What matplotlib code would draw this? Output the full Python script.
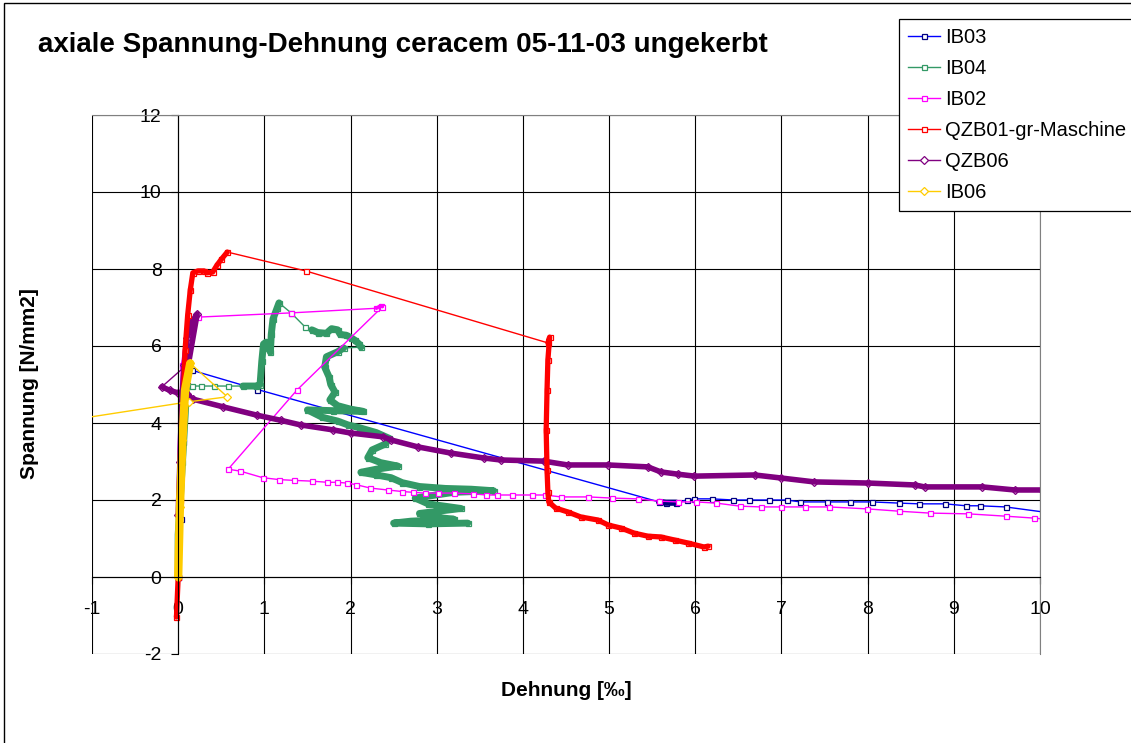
import matplotlib

matplotlib.use("Agg")
import matplotlib.pyplot as plt
import numpy as np
from matplotlib.patches import Rectangle

plt.rcParams["font.family"] = ["Liberation Sans", "DejaVu Sans"]
plt.rcParams["axes.unicode_minus"] = False

TITLE = "axiale Spannung-Dehnung ceracem 05-11-03 ungekerbt"
X_TICKS = list(range(-1, 11))
Y_TICKS = list(range(-2, 13, 2))

# values (strain in per mille, stress in N/mm2)
ib03_x = [0.0, 0.03, 0.06, 0.1, 0.16, 0.92, 5.58, 5.66, 5.78, 5.9, 5.99, 6.19, 6.44, 6.62,
          6.86, 7.06, 7.22, 7.53, 7.79, 8.05, 8.36, 8.6, 8.9, 9.14, 9.3, 9.6, 10.5]
ib03_y = [0.0, 1.5, 3.5, 5.0, 5.37, 4.87, 1.95, 1.93, 1.93, 2.0, 2.03, 2.03, 2.0, 2.0,
          2.0, 2.0, 1.95, 1.95, 1.95, 1.95, 1.92, 1.9, 1.9, 1.85, 1.85, 1.82, 1.55]

ib04_x = [0.0, 0.0, 0.05, 0.1, 0.16, 0.27, 0.41, 0.58, 0.75, 0.9, 0.95, 0.97, 0.99, 1.02,
          1.07, 1.08, 1.1, 1.15, 1.17, 1.31, 1.47, 1.55, 1.62, 1.72, 1.78, 1.85, 1.88, 1.95,
          2.0, 2.05, 2.1, 2.12, 1.92, 1.85, 1.72, 1.7, 1.75, 1.77, 1.82, 1.76, 1.85, 2.0,
          2.15, 1.8, 1.5, 1.67, 1.85, 1.97, 2.1, 2.3, 2.45, 2.4, 2.25, 2.2, 2.35, 2.55,
          2.3, 2.12, 2.3, 2.47, 2.6, 2.8, 3.1, 3.4, 3.66, 3.2, 2.75, 2.9, 3.28, 2.8,
          3.0, 3.2, 2.7, 2.5, 2.9, 3.36]
ib04_y = [0.0, 1.1, 3.0, 4.96, 4.96, 4.96, 4.96, 4.96, 4.96, 4.96, 5.0, 5.6, 6.05, 6.1,
          5.84, 6.3, 6.7, 7.0, 7.12, 6.86, 6.5, 6.42, 6.35, 6.33, 6.45, 6.42, 6.3, 6.28,
          6.22, 6.15, 6.05, 5.97, 5.95, 5.85, 5.72, 5.45, 5.2, 5.0, 4.8, 4.6, 4.45, 4.36,
          4.3, 4.32, 4.34, 4.15, 4.05, 3.95, 3.88, 3.75, 3.6, 3.45, 3.3, 3.1, 2.97, 2.88,
          2.8, 2.72, 2.65, 2.58, 2.45, 2.35, 2.3, 2.28, 2.24, 2.2, 2.05, 1.9, 1.78, 1.65,
          1.55, 1.5, 1.45, 1.4, 1.38, 1.4]

ib02_x = [0.0, 0.0, 0.02, 0.05, 0.1, 0.23, 1.31, 2.3, 2.35, 2.37, 1.38, 0.58, 0.72, 0.98,
          1.17, 1.34, 1.55, 1.73, 1.84, 1.96, 2.06, 2.23, 2.43, 2.6, 2.72, 2.86, 3.01, 3.2,
          3.42, 3.57, 3.7, 3.87, 4.1, 4.26, 4.44, 4.76, 5.03, 5.33, 5.58, 5.8, 6.01, 6.24,
          6.52, 6.76, 6.99, 7.27, 7.55, 7.99, 8.36, 8.72, 9.17, 9.6, 9.93, 10.4]
ib02_y = [0.0, 2.0, 4.0, 5.5, 6.3, 6.75, 6.86, 6.98, 7.05, 7.02, 4.86, 2.8, 2.75, 2.58,
          2.53, 2.51, 2.49, 2.46, 2.46, 2.44, 2.4, 2.31, 2.26, 2.22, 2.2, 2.18, 2.18, 2.18,
          2.16, 2.13, 2.13, 2.13, 2.13, 2.13, 2.08, 2.08, 2.05, 2.03, 1.97, 1.95, 1.95, 1.92,
          1.84, 1.82, 1.82, 1.82, 1.82, 1.77, 1.71, 1.66, 1.64, 1.58, 1.53, 1.43]

qzb01_x = [-0.02, 0.0, 0.02, 0.05, 0.08, 0.11, 0.14, 0.17, 0.23, 0.3, 0.33, 0.4, 0.45, 0.5,
           0.57, 1.48, 4.29, 4.31, 4.29, 4.28, 4.27, 4.28, 4.29, 4.3, 4.38, 4.52, 4.67, 4.87,
           4.99, 5.14, 5.29, 5.45, 5.6, 5.76, 5.92, 6.1, 6.15]
qzb01_y = [-1.04, 0.0, 2.0, 4.0, 5.9, 6.8, 7.45, 7.9, 7.95, 7.95, 7.9, 7.92, 8.1, 8.25,
           8.44, 7.95, 6.08, 6.23, 5.64, 4.86, 3.82, 2.78, 2.2, 1.95, 1.79, 1.69, 1.56, 1.48,
           1.35, 1.27, 1.14, 1.06, 1.04, 0.96, 0.88, 0.78, 0.8]

qzb06_x = [0.0, 0.02, 0.04, 0.07, 0.1, 0.15, 0.22, 0.12, -0.19, -0.1, 0.0, 0.1, 0.17, 0.52,
           0.92, 1.19, 1.42, 1.8, 2.0, 2.38, 2.47, 2.78, 3.16, 3.55, 3.74, 4.24, 4.52, 4.99,
           5.45, 5.6, 5.8, 5.99, 6.69, 7.0, 7.38, 8.01, 8.55, 8.66, 9.33, 9.71, 10.02]
qzb06_y = [1.6, 3.0, 4.5, 5.5, 6.2, 6.6, 6.83, 5.55, 4.94, 4.85, 4.78, 4.75, 4.62, 4.42,
           4.2, 4.07, 3.95, 3.82, 3.74, 3.64, 3.56, 3.38, 3.22, 3.09, 3.04, 3.01, 2.91, 2.91,
           2.86, 2.73, 2.67, 2.62, 2.65, 2.57, 2.47, 2.44, 2.39, 2.34, 2.34, 2.26, 2.26]

ib06_x = [0.0, 0.02, 0.05, 0.08, 0.14, 0.57, 0.12, -1.5]
ib06_y = [0.0, 1.82, 3.56, 4.86, 5.55, 4.68, 4.55, 3.99]


def draw_series(ax, x, y, label, line, edge, marker, dense, band_width=4.5):
    x = np.asarray(x)
    y = np.asarray(y)
    ax.plot(x, y, color=line, lw=1.0, marker=marker, ms=3.6, mfc="white",
            mec=edge, mew=0.9, label=label)
    # stretches where the logged points sit so close that the markers merge into a band
    for start, stop in dense:
        ax.plot(x[start:stop], y[start:stop], color=edge, lw=band_width,
                solid_capstyle="round", solid_joinstyle="round")


fig = plt.figure(figsize=(11.31, 7.43), dpi=100)
ax = fig.add_axes([92 / 1131, 1 - 654 / 743, (1040 - 92) / 1131, (654 - 115) / 743])

draw_series(ax, ib03_x, ib03_y, "IB03", "#0000FF", "#000080", "s", [(6, 9)])
draw_series(ax, ib04_x, ib04_y, "IB04", "#339966", "#339966", "s",
            [(0, 4), (8, 19), (21, 32), (32, 76)], band_width=5)
draw_series(ax, ib02_x, ib02_y, "IB02", "#FF00FF", "#FF00FF", "s", [(0, 6), (7, 10)],
            band_width=2.5)
draw_series(ax, qzb06_x, qzb06_y, "QZB06", "#800080", "#800080", "D", [(0, 8), (8, 41)],
            band_width=4)
draw_series(ax, qzb01_x, qzb01_y, "QZB01-gr-Maschine", "#FF0000", "#FF0000", "s",
            [(0, 15), (16, 37)], band_width=3.8)
draw_series(ax, ib06_x, ib06_y, "IB06", "#FFCC00", "#FFCC00", "D", [(0, 5)], band_width=6)

ax.set_xlim(-1, 10)
ax.set_ylim(-2, 12)
ax.set_xticks(X_TICKS)
ax.set_yticks(Y_TICKS)
ax.grid(True, color="black", lw=0.8)
ax.set_axisbelow(True)
ax.spines["left"].set_position(("data", 0))
ax.spines["bottom"].set_position(("data", 0))
for side in ("top", "right"):
    ax.spines[side].set_color("#808080")
    ax.spines[side].set_linewidth(0.8)
ax.tick_params(axis="x", direction="out", length=5, width=0.8, labelsize=14, pad=12.5)
ax.tick_params(axis="y", direction="out", length=5, width=0.8, labelsize=14, pad=7)

handles, labels = ax.get_legend_handles_labels()
order = ["IB03", "IB04", "IB02", "QZB01-gr-Maschine", "QZB06", "IB06"]
handles = [handles[labels.index(name)] for name in order]
leg = ax.legend(handles, order, loc="upper left", bbox_to_anchor=(899 / 1131, 1 - 19 / 743),
                bbox_transform=fig.transFigure, fontsize=14.5, frameon=True, fancybox=False,
                edgecolor="black", framealpha=1, borderaxespad=0, borderpad=0.43,
                labelspacing=0.6, handlelength=1.6, handletextpad=0.25, numpoints=1)
leg.get_frame().set_linewidth(0.9)

fig.text(38 / 1131, 1 - 45 / 743, TITLE, fontsize=20, fontweight="bold", va="center")
fig.text(566 / 1131, 1 - 690 / 743, "Dehnung [‰]", fontsize=15, fontweight="bold",
         ha="center", va="center")
fig.text(30 / 1131, 1 - 384 / 743, "Spannung [N/mm2]", fontsize=15, fontweight="bold",
         ha="center", va="center", rotation=90)

fig.patches.append(Rectangle((4 / 1131, -0.01), 1.0, 1.0 - 3 / 743 + 0.01,
                             transform=fig.transFigure, fill=False, ec="black", lw=1))

fig.savefig("out.png", dpi=100)
plt.close(fig)
